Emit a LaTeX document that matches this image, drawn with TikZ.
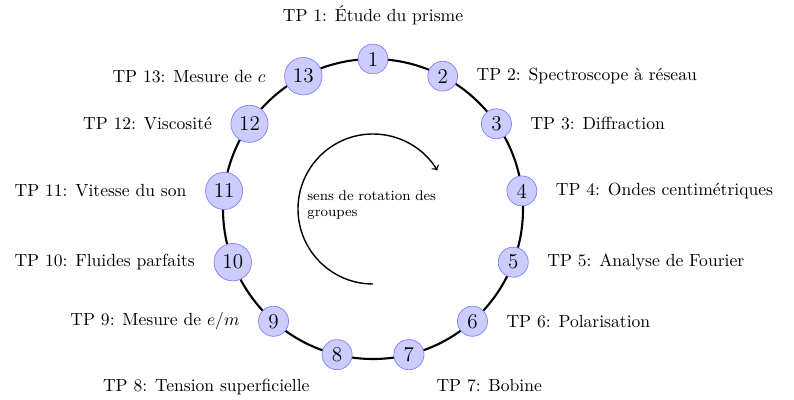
\documentclass[tikz,border=0pt]{standalone}

\tikzset{
  tpnode/.style={circle,draw=blue!50,fill=blue!20,font=\large,inner sep=2.5pt},
}

\begin{document}
\begin{tikzpicture}
\useasboundingbox (-7.46,-3.82) rectangle (8.42,4.18);
\coordinate (O) at (0,0);

\draw[very thick] (O) circle (3);

\foreach \n/\pos/\txt in {1/90/{TP 1: Étude du prisme},2/0/{TP 2: Spectroscope à réseau},3/0/{TP 3: Diffraction},4/0/{TP 4: Ondes centimétriques},5/0/{TP 5: Analyse de Fourier},6/0/{TP 6: Polarisation},7/-40/{TP 7: Bobine},8/-140/{TP 8: Tension superficielle},9/180/{TP 9: Mesure de $e/m$},10/180/{TP 10: Fluides parfaits},11/180/{TP 11: Vitesse du son},12/180/{TP 12: Viscosité},13/180/{TP 13: Mesure de $c$}}
{
  \pgfmathsetmacro{\ang}{90-(\n-1)*360/13}
  \node[tpnode,label={[label distance=2.5mm]\pos:\txt}] (T\n) at (\ang:3) {\n};
}

\draw[thick,->] (O) ++(270:1.5) arc[start angle=270,end angle=31,radius=1.5];
\node[anchor=north west,font=\footnotesize,text width=2.9cm,align=left,inner sep=0pt] (S) at (-1.32,0.38) {sens de rotation des groupes};

\end{tikzpicture}
\end{document}
